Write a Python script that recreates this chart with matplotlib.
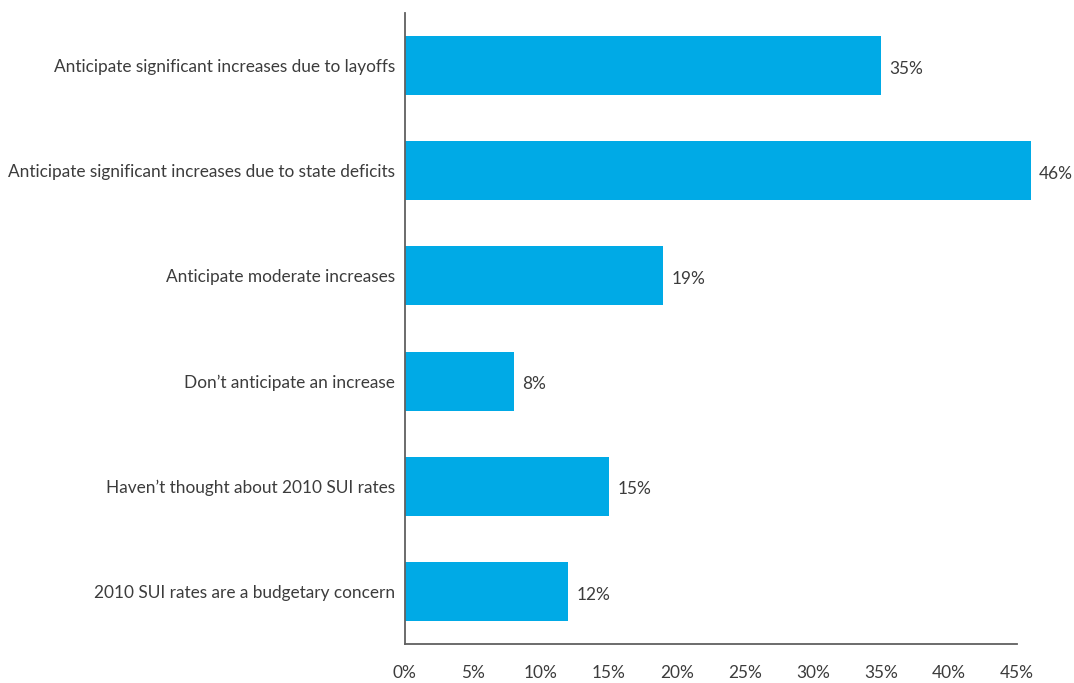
import matplotlib
matplotlib.use("Agg")
import matplotlib.pyplot as plt
from matplotlib.ticker import FuncFormatter

categories = [
    "Anticipate significant increases due to layoffs",
    "Anticipate significant increases due to state deficits",
    "Anticipate moderate increases",
    "Don\u2019t anticipate an increase",
    "Haven\u2019t thought about 2010 SUI rates",
    "2010 SUI rates are a budgetary concern",
]
values = [35, 46, 19, 8, 15, 12]
x_ticks = [0, 5, 10, 15, 20, 25, 30, 35, 40, 45]

BAR_COLOR = "#00AAE6"
TEXT_COLOR = "#3C3C3C"
FONT = "Lato"
FS = 12.4

plt.rcParams["font.family"] = [FONT, "DejaVu Sans"]

fig = plt.figure(figsize=(10.74, 6.83), dpi=100)
ax = fig.add_axes([0.377, 0.057, 0.570, 0.924])

ypos = list(range(len(categories)))
ax.barh(ypos, values, height=0.56, color=BAR_COLOR, clip_on=False, zorder=2)

# value labels just past the end of each bar
for y, v in zip(ypos, values):
    ax.text(v + 0.6, y + 0.03, f"{v}%", va="center", ha="left",
            fontsize=FS, color=TEXT_COLOR)

ax.set_xlim(0, 45)
ax.set_ylim(5.5, -0.5)
ax.set_yticks(ypos)
ax.set_yticklabels(categories)
ax.set_xticks(x_ticks)
ax.xaxis.set_major_formatter(FuncFormatter(lambda v, _: f"{int(v)}%"))

ax.tick_params(axis="y", length=0, pad=7, labelsize=FS, labelcolor=TEXT_COLOR)
ax.tick_params(axis="x", length=0, pad=15, labelsize=FS, labelcolor=TEXT_COLOR)

for side in ("top", "right"):
    ax.spines[side].set_visible(False)
for side in ("left", "bottom"):
    ax.spines[side].set_color("#606060")
    ax.spines[side].set_linewidth(1.3)

fig.savefig("out.png", dpi=100)
